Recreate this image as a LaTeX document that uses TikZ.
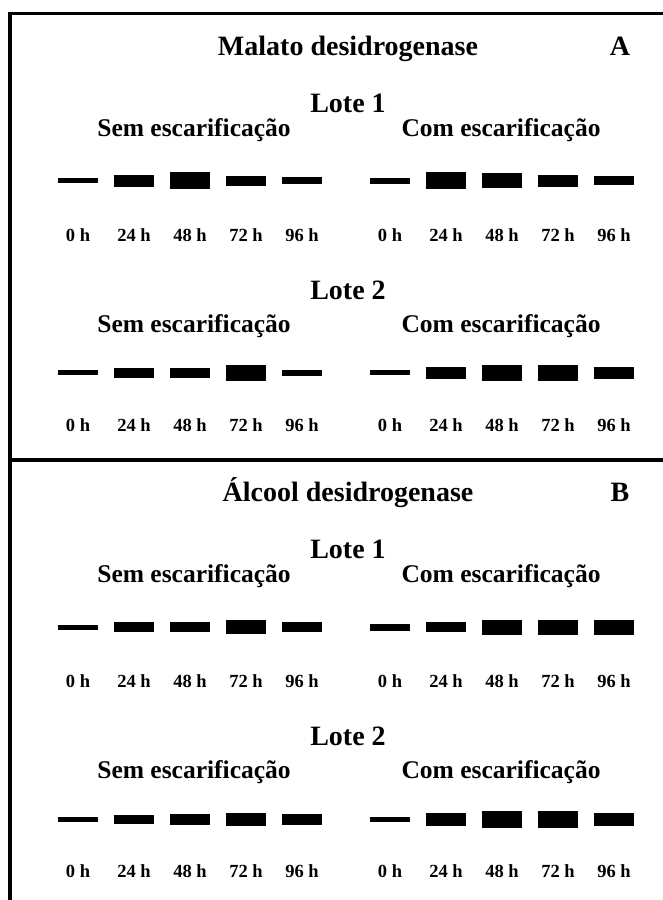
\documentclass[tikz,border=0pt]{standalone}
\usepackage{fontspec}
\setmainfont{Liberation Serif}
\newcommand\bandrow[4]{%
  \foreach \h [count=\i] in {#4} {
    \pgfmathsetmacro\bx{ifthenelse(\i<6, 78+56*(\i-1), 390+56*(\i-6))}
    \node[band, minimum height=\h pt] (#1b\i) at (\bx,#2) {};
  }
  \foreach \t [count=\i] in {0 h,24 h,48 h,72 h,96 h,0 h,24 h,48 h,72 h,96 h} {
    \pgfmathsetmacro\bx{ifthenelse(\i<6, 78+56*(\i-1), 390+56*(\i-6))}
    \node[tlab] (#1t\i) at (\bx,#3) {\t};
  }
}
\begin{document}
\begin{tikzpicture}[x=1pt,y=-1pt,
  band/.style={fill=black, draw=none, inner sep=0pt, minimum width=40pt},
  ttl/.style={font=\fontsize{28}{30}\selectfont\bfseries, anchor=base, inner sep=0pt},
  grp/.style={font=\fontsize{25.5}{28}\selectfont\bfseries, anchor=base, inner sep=0pt},
  tlab/.style={font=\fontsize{18.5}{20}\selectfont\bfseries, anchor=base, inner sep=0pt},
  frame/.style={line width=3.5pt, line join=miter}]
\useasboundingbox (0,0) rectangle (663,900);
% frame
\draw[frame] (663,13.5) -- (10,13.5) -- (10,900);
\draw[frame] (10,460) -- (663,460);
% panels
\foreach \P/\off/\ttext in {A/0/Malato desidrogenase, B/446/Álcool desidrogenase} {
  \node[ttl] (\P title) at (348,55+\off) {\ttext};
  \node[ttl] (\P letter) at (620,55+\off) {\P};
  \node[ttl] (\P lote1) at (348,112+\off) {Lote 1};
  \node[grp] (\P sem1) at (194,136+\off) {Sem escarificação};
  \node[grp] (\P com1) at (501,136+\off) {Com escarificação};
  \node[ttl] (\P lote2) at (348,299+\off) {Lote 2};
  \node[grp] (\P sem2) at (194,332+\off) {Sem escarificação};
  \node[grp] (\P com2) at (501,332+\off) {Com escarificação};
}
\bandrow{A1}{180.5}{241}{5,12,17,10,7,6,17,15,12,9}
\bandrow{A2}{372.5}{431}{5,10,10,16,6,5,12,16,16,12}
\bandrow{B1}{627}{687}{5,10,10,14,10,7,10,15,15,15}
\bandrow{B2}{819.5}{877}{4.5,9,11,12.5,11,4.5,12.5,17.5,17.5,12.5}
\end{tikzpicture}
\end{document}
